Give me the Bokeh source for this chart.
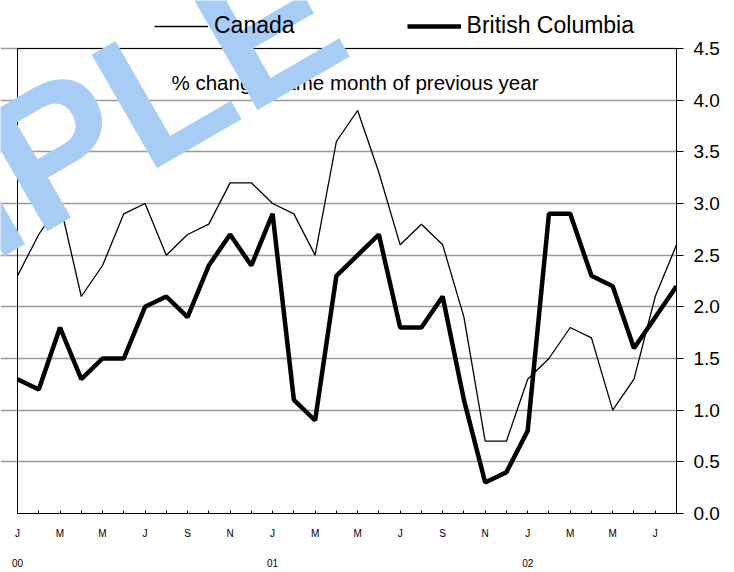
from bokeh.plotting import figure
from bokeh.models import (LinearAxis, FixedTicker, NumeralTickFormatter, Legend,
                          LegendItem, Label, Range1d)
from bokeh.embed import file_html
from bokeh.resources import INLINE

# ---- data: Jan 2000 .. Aug 2002, % change from same month of previous year
month_letters = ["J", "F", "M", "A", "M", "J", "J", "A", "S", "O", "N", "D"]
canada = [2.3, 2.7, 3.0, 2.1, 2.4, 2.9, 3.0, 2.5, 2.7, 2.8, 3.2, 3.2,
          3.0, 2.9, 2.5, 3.6, 3.9, 3.3, 2.6, 2.8, 2.6, 1.9, 0.7, 0.7,
          1.3, 1.5, 1.8, 1.7, 1.0, 1.3, 2.1, 2.6]
british_columbia = [1.3, 1.2, 1.8, 1.3, 1.5, 1.5, 2.0, 2.1, 1.9, 2.4, 2.7, 2.4,
                    2.9, 1.1, 0.9, 2.3, 2.5, 2.7, 1.8, 1.8, 2.1, 1.1, 0.3, 0.4,
                    0.8, 2.9, 2.9, 2.3, 2.2, 1.6, 1.9, 2.2]
year_ticks = [0, 12, 24]
year_labels = ["00", "01", "02"]
y_ticks = [0.0, 0.5, 1.0, 1.5, 2.0, 2.5, 3.0, 3.5, 4.0, 4.5]
series_names = ["Canada", "British Columbia"]
subtitle = "% change, same month of previous year"

FONT = "Liberation Sans"
n = len(canada)
x = list(range(n))
x0, x1 = x[0], x[-1]
y0, y1 = y_ticks[0], y_ticks[-1]

# layout (pixels): plot box from (17,48) to (676,513); the frame starts at (0,0)
W, H = 734, 572
BOX_L, BOX_T, BOX_R, BOX_B = 17, 48, 676, 513
px_x = (BOX_R - BOX_L) / (x1 - x0)
px_y = (BOX_B - BOX_T) / (y1 - y0)

p = figure(width=W, height=H, output_backend="svg", toolbar_location=None,
           x_range=Range1d(x0 - BOX_L / px_x, x1),
           y_range=Range1d(y0, y1 + BOX_T / px_y),
           y_axis_location="right",
           min_border_left=0, min_border_top=0, min_border_right=W - BOX_R,
           min_border_bottom=H - BOX_B)
p.background_fill_color = "white"
p.border_fill_color = "white"
p.outline_line_color = None

# grid
p.xgrid.visible = False
p.ygrid.ticker = FixedTicker(ticks=y_ticks)
p.ygrid.grid_line_color = "#9a9a9a"
p.ygrid.grid_line_width = 1.5
p.ygrid.bounds = (x0, x1)

# x axis (months)
xa = p.xaxis[0]
xa.bounds = (x0, x1)
xa.ticker = FixedTicker(ticks=x)
xa.major_label_overrides = {i: (month_letters[i % 12] if i % 2 == 0 else "") for i in x}
xa.major_tick_in = 3
xa.major_tick_out = 0
xa.minor_tick_line_color = None
xa.axis_line_color = "black"
xa.major_tick_line_color = "black"
xa.major_label_standoff = 14
xa.major_label_text_font = FONT
xa.major_label_text_font_size = "10px"
xa.major_label_text_color = "black"

# x axis (years)
ya2 = LinearAxis(ticker=FixedTicker(ticks=year_ticks),
                 major_label_overrides={t: l for t, l in zip(year_ticks, year_labels)},
                 axis_line_color=None, major_tick_line_color=None,
                 minor_tick_line_color=None, major_label_standoff=11,
                 major_label_text_font=FONT, major_label_text_font_size="10px",
                 major_label_text_color="black")
p.add_layout(ya2, "below")

# y axis (right)
ya = p.yaxis[0]
ya.bounds = (y0, y1)
ya.ticker = FixedTicker(ticks=y_ticks)
ya.formatter = NumeralTickFormatter(format="0.0")
ya.major_tick_in = 0
ya.major_tick_out = 7
ya.minor_tick_line_color = None
ya.axis_line_color = "black"
ya.major_tick_line_color = "black"
ya.major_label_standoff = 10
ya.major_label_text_font = FONT
ya.major_label_text_font_size = "19px"
ya.major_label_text_color = "black"

# plot box: top and left border
p.segment(x0=[x0, x0], y0=[y1, y0], x1=[x1, x0], y1=[y1, y1],
          line_color="black", line_width=1)

# lines
r_can = p.line(x, canada, line_width=1.3, line_color="black")
r_bc = p.line(x, british_columbia, line_width=4.5, line_color="black")

legend = Legend(items=[LegendItem(label=series_names[0], renderers=[r_can]),
                       LegendItem(label=series_names[1], renderers=[r_bc])],
                orientation="horizontal", location=(154, 474),
                glyph_width=54, glyph_height=20, label_standoff=6, spacing=112,
                padding=0, margin=0, border_line_alpha=0, background_fill_alpha=0,
                label_text_font=FONT, label_text_font_size="23px",
                label_text_color="black", level="glyph")
p.add_layout(legend)

p.add_layout(Label(x=354.5, y=431, x_units="screen", y_units="screen", text=subtitle,
                   text_align="center", text_baseline="middle", text_font=FONT,
                   text_font_size="20.5px", text_color="black"))

# watermark
p.add_layout(Label(x=-363, y=122, x_units="screen", y_units="screen", text="SAMPLE",
                   angle=30, angle_units="deg", text_align="left",
                   text_baseline="alphabetic", text_font=FONT, text_font_style="bold",
                   text_font_size="190px", text_color="#A8CDF5", level="overlay"))

open("out.html", "w").write(file_html(p, INLINE))
